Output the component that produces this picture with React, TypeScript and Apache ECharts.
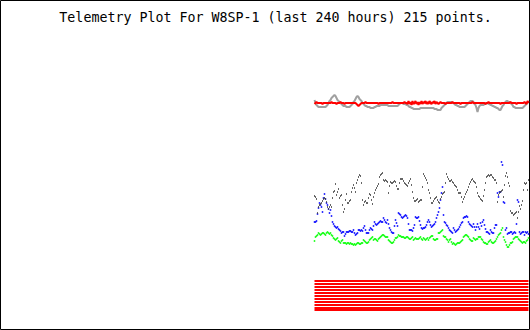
import React, { useEffect, useRef } from "react";
import * as echarts from "echarts";

const TITLE = "Telemetry Plot For W8SP-1 (last 240 hours) 215 points.";

// sample slots: 215 points, the last of 530 slots
const sampleIndex: number[] = Array.from({ length: 215 }, (_, i) => i);

const blackValues = [
  134,133,131,117,123,125,126,127,129,131,
  132,131,128,123,121,123,125,123,132,138,
  139,146,135,138,141,132,134,135,125,118,
  121,130,136,127,127,129,130,138,142,145,
  142,138,147,150,153,155,154,147,130,125,
  128,129,127,127,132,136,135,130,126,133,
  137,140,142,144,146,153,155,156,157,150,
  149,150,149,148,137,144,148,147,147,148,
  149,148,144,141,141,147,151,151,151,149,
  147,146,145,144,147,149,151,145,138,132,
  129,129,130,131,128,129,130,130,143,156,
  154,152,150,147,140,137,132,127,127,129,
  131,132,133,130,128,127,131,133,136,137,
  138,147,156,153,151,149,149,150,148,147,
  145,144,143,140,137,137,137,133,128,131,
  133,136,138,140,143,146,148,150,151,149,
  148,147,143,137,134,133,131,130,129,134,
  140,147,153,154,155,154,155,155,153,152,
  150,150,147,128,135,137,138,139,140,133,
  145,154,157,153,147,144,119,117,117,115,
  116,117,118,112,118,124,121,125,129,140,
  147,146,147,140,150,
];

const blueValues = [
  108,108,109,116,122,127,125,123,118,132,
  136,131,127,125,121,117,120,114,108,106,
  104,103,102,103,101,100,99,97,98,98,
  94,96,98,98,98,99,99,98,98,100,
  97,95,96,97,100,100,99,100,99,102,
  104,100,97,97,97,100,102,101,100,104,
  108,106,105,106,107,108,109,108,108,112,
  110,108,107,110,106,102,100,98,97,97,
  104,110,107,104,117,116,115,113,112,113,
  114,115,114,112,106,100,100,100,99,102,
  105,113,112,112,113,109,105,102,101,102,
  102,103,105,108,110,108,105,103,104,105,
  106,108,112,115,118,122,130,137,143,115,
  108,107,105,104,102,100,99,98,97,102,
  100,98,99,100,101,103,105,107,108,112,
  113,113,114,113,108,106,105,104,103,106,
  103,100,103,106,103,101,107,104,108,110,
  105,101,98,98,97,96,100,98,97,97,
  102,105,105,137,133,138,138,168,165,128,
  127,100,102,96,97,97,98,98,96,97,
  98,97,106,130,128,98,96,97,98,98,
  95,98,97,98,96,
];

const greenValues = [
  89,93,94,95,97,96,95,96,97,97,
  96,95,97,98,97,96,97,95,94,92,
  91,90,91,92,89,88,87,89,90,87,
  87,87,86,87,87,86,87,86,86,85,
  86,85,86,87,87,86,86,87,87,90,
  89,88,87,87,88,90,91,92,93,90,
  91,91,90,89,91,92,93,94,95,95,
  94,93,93,93,90,89,88,87,87,88,
  90,92,92,93,95,94,94,93,93,93,
  92,92,93,93,92,91,91,92,93,90,
  91,92,91,91,91,92,93,91,90,92,
  91,90,91,92,90,92,93,94,94,91,
  90,90,91,91,97,97,98,99,100,94,
  93,93,91,90,88,90,91,88,86,87,
  86,85,86,87,87,87,88,89,90,93,
  94,95,95,94,93,91,90,89,89,92,
  91,90,91,91,93,93,93,91,90,88,
  87,87,86,86,88,89,90,88,87,87,
  88,89,91,93,95,96,97,100,102,93,
  90,88,85,83,83,85,87,87,88,91,
  92,93,93,93,91,90,89,88,87,88,
  88,87,89,90,92,
];

const grayValues = [
  230,227,225,224,223,223,223,223,223,223,
  223,223,224,225,227,229,230,232,233,234,
  235,234,232,230,229,228,227,226,225,224,
  224,224,223,223,223,223,224,225,226,228,
  229,231,233,234,233,231,230,229,227,226,
  225,224,224,223,223,223,222,222,222,222,
  223,223,224,224,224,224,225,225,225,225,
  225,225,225,225,224,224,224,224,224,224,
  224,224,224,224,225,226,227,227,227,226,
  226,226,225,225,224,223,223,222,222,221,
  221,221,221,221,221,221,222,222,222,222,
  222,222,222,222,222,222,222,222,222,222,
  221,221,221,220,220,220,220,222,223,224,
  225,226,227,228,228,228,228,228,227,227,
  226,225,225,224,224,223,223,223,223,223,
  223,224,225,226,227,228,229,229,229,228,
  226,225,222,218,222,224,225,225,225,225,
  226,226,227,227,226,226,225,225,224,224,
  223,223,222,222,221,220,220,222,224,225,
  227,228,229,229,228,228,227,226,225,223,
  223,222,222,222,222,222,222,222,222,223,
  224,225,226,227,229,
];

const redValues = [
  226,227,228,227,227,227,227,227,226,227,
  227,227,227,227,227,227,227,228,227,227,
  227,227,226,227,227,227,228,227,227,227,
  226,227,227,227,227,227,227,227,227,227,
  227,227,226,225,224,225,226,227,227,227,
  227,228,227,227,227,227,227,227,227,227,
  227,227,227,227,226,227,227,227,227,227,
  227,227,227,227,227,227,227,227,228,227,
  227,227,227,227,227,227,227,227,227,227,
  228,227,227,226,229,226,228,225,229,226,
  227,229,226,228,225,228,226,229,226,228,
  227,229,226,228,226,229,227,226,228,227,
  229,226,228,227,226,227,228,227,227,227,
  227,226,227,227,227,227,227,227,228,227,
  227,227,227,227,227,227,226,227,227,227,
  227,227,227,227,227,227,227,227,228,227,
  227,227,227,227,227,227,227,227,227,227,
  227,226,227,227,228,227,227,227,227,227,
  227,227,227,227,227,227,226,227,227,227,
  227,227,227,227,227,227,228,227,227,227,
  227,227,226,227,227,227,227,227,227,227,
  228,227,226,229,227,
];

// constant readings drawn as stacked red stripes
const stripeLevels = [49, 46, 43, 40, 37, 34, 31, 28, 25, 22, 20];

const pairs = (vals: number[]) => sampleIndex.map((i) => [i, vals[i]]);

export default function App() {
  const ref = useRef<HTMLDivElement>(null);
  useEffect(() => {
    if (!ref.current) return;
    const chart = echarts.init(ref.current, null, { renderer: "svg" });
    const stripeSeries = stripeLevels.map((lvl) => ({
      type: "line",
      data: sampleIndex.map((i) => [i, lvl]),
      showSymbol: false,
      lineStyle: { color: "#ff0000", width: 2 },
      silent: true,
    }));
    chart.setOption({
      animation: false,
      backgroundColor: "#ffffff",
      grid: { left: 0, right: 0, top: 0, bottom: 0 },
      xAxis: { type: "value", min: -314.5, max: 215.5, show: false },
      yAxis: { type: "value", min: 0, max: 330, show: false },
      series: [
        ...stripeSeries,
        {
          type: "line",
          data: pairs(grayValues),
          showSymbol: false,
          lineStyle: { color: "#a0a0a0", width: 2 },
        },
        {
          type: "line",
          data: pairs(redValues),
          showSymbol: false,
          lineStyle: { color: "#ff0000", width: 2 },
        },
        {
          type: "scatter",
          data: pairs(greenValues),
          symbol: "rect",
          symbolSize: [1.5, 2],
          itemStyle: { color: "#00ff00" },
        },
        {
          type: "scatter",
          data: pairs(blueValues),
          symbol: "rect",
          symbolSize: [1.5, 2],
          itemStyle: { color: "#0000ff" },
        },
        {
          type: "scatter",
          data: pairs(blackValues),
          symbol: "rect",
          symbolSize: [1, 2],
          itemStyle: { color: "#404040" },
        },
      ],
      graphic: [
        {
          type: "rect",
          shape: { x: 0.5, y: 0.5, width: 529, height: 329 },
          style: { fill: "none", stroke: "#000000", lineWidth: 1 },
          silent: true,
        },
        {
          type: "text",
          x: 275.5,
          y: 17,
          style: {
            text: TITLE,
            fill: "#000000",
            font: '13.3px "DejaVu Sans Mono"',
            textAlign: "center",
            textVerticalAlign: "middle",
          },
        },
      ],
    });
    return () => chart.dispose();
  }, []);
  return (
    <div
      ref={ref}
      style={{ position: "fixed", left: 0, top: 0, width: 530, height: 330, background: "#fff" }}
    />
  );
}
